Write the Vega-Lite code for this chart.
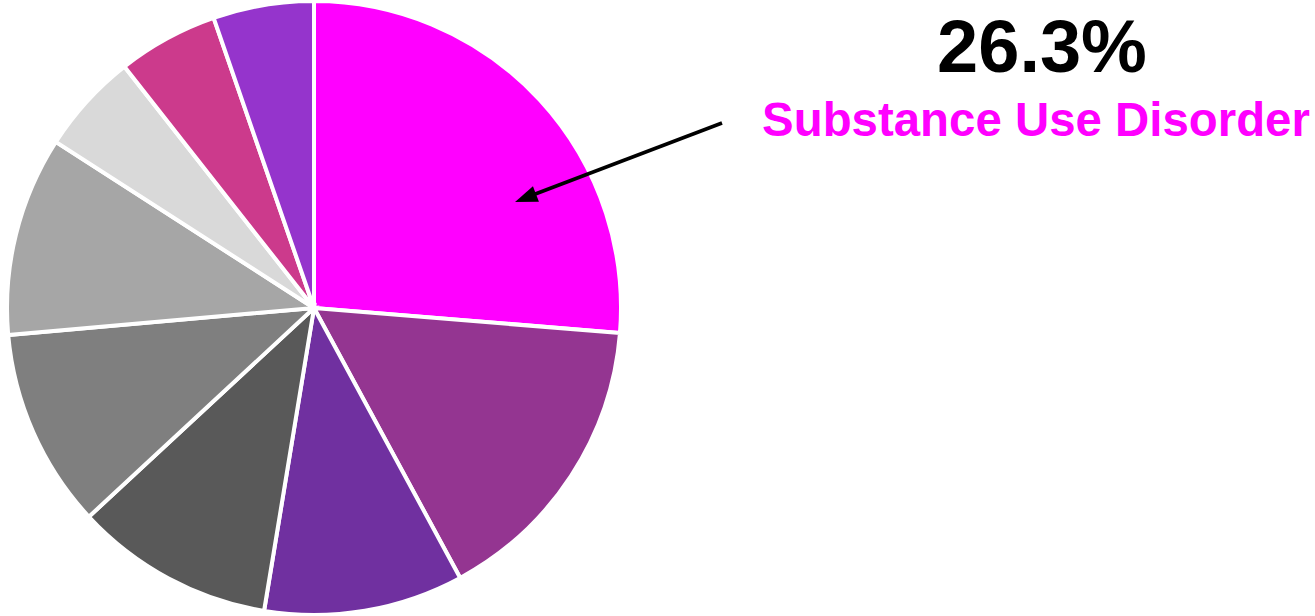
{
  "$schema": "https://vega.github.io/schema/vega-lite/v6.json",
  "width": 1315,
  "height": 616,
  "autosize": "none",
  "padding": 0,
  "background": "white",
  "config": {"view": {"stroke": null}},
  "layer": [
    {
      "data": {"values": [
        {"category": "Substance Use Disorder", "share": 26.3, "order": 1},
        {"category": "Category 2", "share": 15.8, "order": 2},
        {"category": "Category 3", "share": 10.5, "order": 3},
        {"category": "Category 4", "share": 10.5, "order": 4},
        {"category": "Category 5", "share": 10.5, "order": 5},
        {"category": "Category 6", "share": 10.5, "order": 6},
        {"category": "Category 7", "share": 5.3, "order": 7},
        {"category": "Category 8", "share": 5.3, "order": 8},
        {"category": "Category 9", "share": 5.3, "order": 9}
      ]},
      "mark": {"type": "arc", "radius": 307, "x": 314, "y": 308, "stroke": "white", "strokeWidth": 4},
      "encoding": {
        "theta": {"field": "share", "type": "quantitative", "stack": true},
        "order": {"field": "order", "type": "quantitative"},
        "color": {
          "field": "category", "type": "nominal", "legend": null,
          "scale": {
            "domain": ["Substance Use Disorder", "Category 2", "Category 3", "Category 4", "Category 5", "Category 6", "Category 7", "Category 8", "Category 9"],
            "range": ["#ff00ff", "#943591", "#7030a0", "#595959", "#7f7f7f", "#a6a6a6", "#d9d9d9", "#cc3a8c", "#9534cc"]
          }
        }
      }
    },
    {
      "data": {"values": [{"label": "26.3%"}]},
      "mark": {"type": "text", "x": 1042, "y": 72, "baseline": "alphabetic", "align": "center", "font": "Liberation Sans", "fontWeight": "bold", "fontSize": 74, "color": "black"},
      "encoding": {"text": {"field": "label"}}
    },
    {
      "data": {"values": [{"label": "Substance Use Disorder"}]},
      "mark": {"type": "text", "x": 1036, "y": 136, "baseline": "alphabetic", "align": "center", "font": "Liberation Sans", "fontWeight": "bold", "fontSize": 47.4, "color": "#ff00ff"},
      "encoding": {"text": {"field": "label"}}
    },
    {
      "data": {"values": [{"label": "arrow"}]},
      "mark": {"type": "rule", "stroke": "black", "strokeWidth": 3.5},
      "encoding": {
        "x": {"value": 722},
        "y": {"value": 123},
        "x2": {"value": 530},
        "y2": {"value": 196}
      }
    },
    {
      "data": {"values": [{"label": "arrowhead"}]},
      "mark": {"type": "point", "shape": "M0,-1L0.75,1L-0.75,1Z", "filled": true, "color": "black", "opacity": 1, "strokeWidth": 0},
      "encoding": {
        "x": {"value": 525.5},
        "y": {"value": 198},
        "size": {"value": 500},
        "angle": {"value": 249}
      }
    }
  ]
}
